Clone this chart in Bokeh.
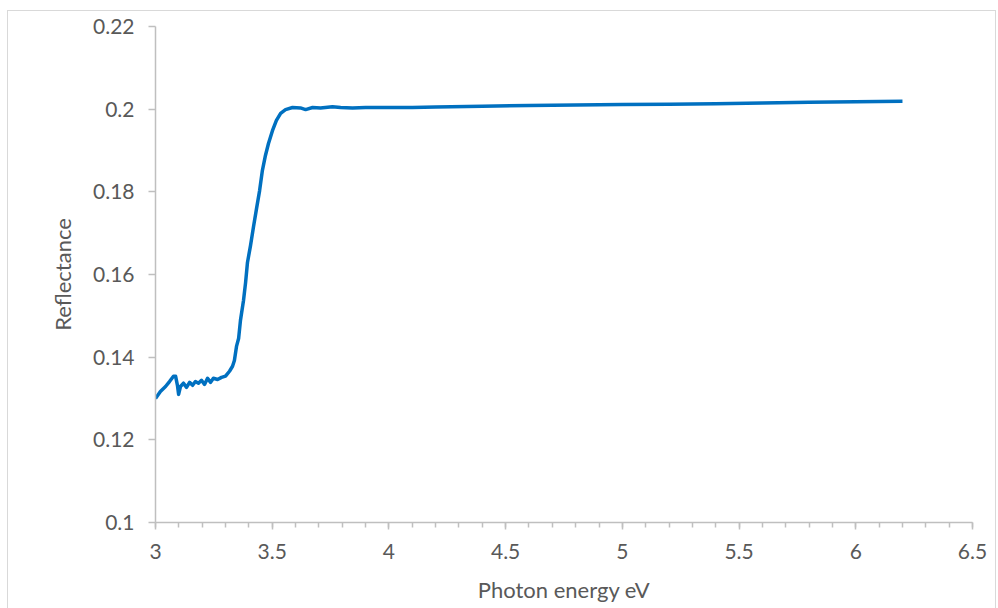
from bokeh.plotting import figure
from bokeh.models import (ColumnDataSource, Range1d, FixedTicker, CustomJSTickFormatter,
                          InlineStyleSheet)
from bokeh.embed import file_html
from bokeh.resources import INLINE

# ---- data ----
photon_energy = [3.000, 3.021, 3.043, 3.060, 3.077, 3.086, 3.094, 3.099, 3.107, 3.120,
                 3.133, 3.146, 3.159, 3.171, 3.184, 3.197, 3.210, 3.223, 3.236, 3.248,
                 3.266, 3.283, 3.300, 3.317, 3.330, 3.338, 3.347, 3.356, 3.364, 3.377,
                 3.386, 3.394, 3.407, 3.420, 3.433, 3.446, 3.458, 3.471, 3.484, 3.501,
                 3.518, 3.536, 3.557, 3.587, 3.621, 3.643, 3.673, 3.707, 3.758, 3.793,
                 3.844, 3.900, 4.000, 4.100, 4.200, 4.400, 4.600, 4.800, 5.000, 5.200,
                 5.400, 5.600, 5.800, 6.000, 6.200]
reflectance = [0.1300, 0.1317, 0.1329, 0.1341, 0.1354, 0.1354, 0.1332, 0.1310, 0.1329, 0.1337,
               0.1327, 0.1339, 0.1332, 0.1341, 0.1337, 0.1344, 0.1334, 0.1349, 0.1339, 0.1349,
               0.1346, 0.1351, 0.1354, 0.1366, 0.1378, 0.1392, 0.1426, 0.1445, 0.1489, 0.1537,
               0.1581, 0.1629, 0.1670, 0.1716, 0.1760, 0.1803, 0.1852, 0.1888, 0.1917, 0.1948,
               0.1973, 0.1990, 0.1999, 0.2004, 0.2003, 0.1999, 0.2004, 0.2003, 0.2006, 0.2004,
               0.2003, 0.2004, 0.2004, 0.2004, 0.2005, 0.2007, 0.2009, 0.2010, 0.2011, 0.2012,
               0.2013, 0.2015, 0.2017, 0.2018, 0.2019]

x_ticks = [3, 3.5, 4, 4.5, 5, 5.5, 6, 6.5]
x_minor_ticks = [round(3 + 0.1 * i, 1) for i in range(36)]
y_ticks = [0.1, 0.12, 0.14, 0.16, 0.18, 0.2, 0.22]
x_title = "Photon energy eV"
y_title = "Reflectance"

FONT = "Lato"
TEXT = "#595959"
AXIS = "#BFBFBF"

src = ColumnDataSource(dict(x=photon_energy, y=reflectance))

border_css = InlineStyleSheet(css="""
:host { position: relative; }
:host::after {
  content: ""; position: absolute; left: 7px; top: 10px; width: 989px; height: 620px;
  border: 1.5px solid #D9D9D9; box-sizing: border-box; pointer-events: none; z-index: 10;
}
""")

p = figure(width=998, height=608, output_backend="svg", toolbar_location=None,
           x_range=Range1d(3, 6.5), y_range=Range1d(0.1, 0.22),
           min_border_left=155, min_border_right=26, min_border_top=26, min_border_bottom=86,
           stylesheets=[border_css])
p.outline_line_color = None
p.xgrid.visible = False
p.ygrid.visible = False
p.background_fill_color = "white"
p.border_fill_color = "white"

p.line("x", "y", source=src, line_color="#0070C0", line_width=3.5, line_join="round")

fmt = CustomJSTickFormatter(code="return String(parseFloat(tick.toFixed(2)));")

xa = p.xaxis[0]
xa.ticker = FixedTicker(ticks=x_ticks, minor_ticks=x_minor_ticks)
xa.formatter = fmt
xa.axis_label = x_title
ya = p.yaxis[0]
ya.ticker = FixedTicker(ticks=y_ticks)
ya.formatter = fmt
ya.axis_label = y_title

for ax in (xa, ya):
    ax.axis_line_color = AXIS
    ax.axis_line_width = 1.5
    ax.major_tick_line_color = AXIS
    ax.major_tick_line_width = 1.5
    ax.major_tick_in = 0
    ax.minor_tick_line_color = AXIS
    ax.minor_tick_line_width = 1.5
    ax.minor_tick_in = 0
    ax.major_label_text_font = FONT
    ax.major_label_text_color = TEXT
    ax.major_label_text_font_size = "21px"
    ax.axis_label_text_font = FONT
    ax.axis_label_text_color = TEXT
    ax.axis_label_text_font_size = "22px"
    ax.axis_label_text_font_style = "normal"

xa.major_tick_out = 7
xa.minor_tick_out = 5
xa.major_label_standoff = 14
xa.axis_label_standoff = 14
ya.major_tick_out = 7
ya.minor_tick_out = 0
ya.major_label_standoff = 14
ya.axis_label_standoff = 14

open("out.html", "w").write(file_html(p, INLINE))
